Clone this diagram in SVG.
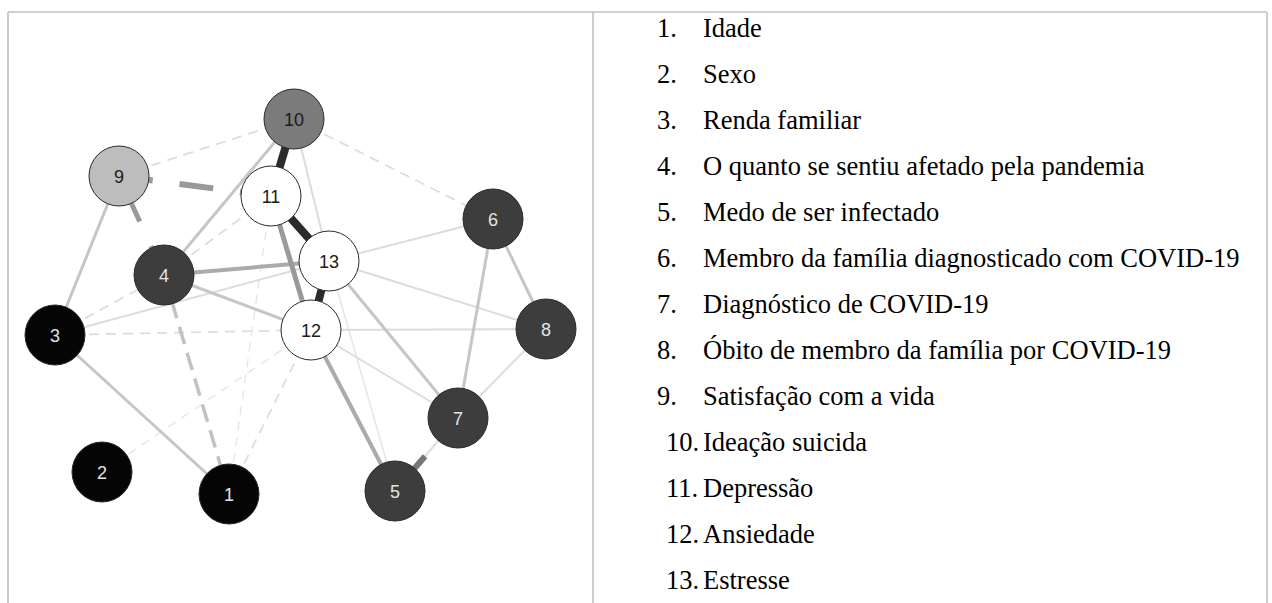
<svg xmlns="http://www.w3.org/2000/svg" width="1272" height="603" viewBox="0 0 1272 603">
<style>
.frame{stroke:#c0c0c0;stroke-width:1.6;fill:none}
.e{fill:none;stroke-linecap:butt}
.thick{stroke:#2b2b2b;stroke-width:8}
.mid{stroke:#9a9a9a;stroke-width:5}
.gray{stroke:#ababab;stroke-width:4}
.lg{stroke:#c6c6c6;stroke-width:3}
.lt{stroke:#dcdcdc;stroke-width:2}
.vlt{stroke:#e6e6e6;stroke-width:1.5}
.dl{stroke:#dddddd;stroke-width:1.8;stroke-dasharray:10 7}
.dvl{stroke:#e8e8e8;stroke-width:1.5;stroke-dasharray:9 7}
.n circle{stroke:#2a2a2a;stroke-width:1}
.n text{font-family:"Liberation Sans",Arial,sans-serif;font-size:18px;text-anchor:middle}
.dk circle{fill:#3d3d3d}
.dk text{fill:#e4e4e4}
.bk circle{fill:#050505}
.bk text{fill:#e4e4e4}
.wh circle{fill:#ffffff}
.wh text{fill:#1a1a1a}
.list text{font-family:"Liberation Serif","Times New Roman",serif;font-size:26.5px;fill:#000}
</style>
<g id="frame">
<line class="frame" x1="8" y1="12" x2="1267" y2="12"/>
<line class="frame" x1="8" y1="12" x2="8" y2="603"/>
<line class="frame" x1="593" y1="12" x2="593" y2="603"/>
<line class="frame" x1="1267" y1="12" x2="1267" y2="603"/>
</g>
<g id="connectors">
<line class="e dvl" x1="102" y1="472" x2="311" y2="330"/>
<line class="e dvl" x1="229" y1="494" x2="271" y2="196"/>
<line class="e dl" x1="229" y1="494" x2="311" y2="330"/>
<line class="e dl" x1="55" y1="335" x2="311" y2="330"/>
<line class="e dl" x1="55" y1="335" x2="164" y2="275"/>
<line class="e dl" x1="164" y1="275" x2="271" y2="196"/>
<line class="e dl" x1="119" y1="176" x2="294" y2="119"/>
<line class="e dl" x1="294" y1="119" x2="493" y2="219"/>
<line class="e vlt" x1="329" y1="261" x2="395" y2="491"/>
<line class="e lt" x1="294" y1="119" x2="329" y2="261"/>
<line class="e lt" x1="55" y1="335" x2="329" y2="261"/>
<line class="e lt" x1="329" y1="261" x2="493" y2="219"/>
<line class="e lt" x1="329" y1="261" x2="546" y2="329"/>
<line class="e lt" x1="311" y1="330" x2="546" y2="329"/>
<line class="e lt" x1="311" y1="330" x2="458" y2="418"/>
<line class="e lt" x1="546" y1="329" x2="458" y2="418"/>
<line class="e lt" x1="458" y1="418" x2="395" y2="491"/>
<line class="e lg" stroke-width="2.5" x1="55" y1="335" x2="229" y2="494"/>
<line class="e lg" x1="119" y1="176" x2="55" y2="335"/>
<line class="e lg" x1="164" y1="275" x2="294" y2="119"/>
<line class="e lg" x1="164" y1="275" x2="311" y2="330"/>
<line class="e lg" x1="329" y1="261" x2="458" y2="418"/>
<line class="e lg" x1="493" y1="219" x2="546" y2="329"/>
<line class="e lg" stroke="#bbbbbb" stroke-width="4" x1="493" y1="219" x2="458" y2="418"/>
<line class="e" stroke="#c2c2c2" stroke-width="3.5" stroke-dasharray="18 9" x1="164" y1="275" x2="229" y2="494"/>
<line class="e gray" x1="164" y1="275" x2="329" y2="261"/>
<line class="e gray" x1="311" y1="330" x2="395" y2="491"/>
<line class="e mid" x1="271" y1="196" x2="311" y2="330"/>
<line class="e" stroke="#999999" stroke-width="6" stroke-dasharray="34 27" x1="119" y1="176" x2="271" y2="196"/>
<line class="e" stroke="#999999" stroke-width="5" stroke-dasharray="50 27" x1="119" y1="176" x2="164" y2="275"/>
<line class="e" stroke="#777777" stroke-width="6" stroke-dasharray="46 200" x1="395" y1="491" x2="458" y2="418"/>
<line class="e thick" x1="294" y1="119" x2="271" y2="196"/>
<line class="e thick" stroke-width="9" x1="271" y1="196" x2="329" y2="261"/>
<line class="e thick" x1="329" y1="261" x2="311" y2="330"/>
</g>
<g id="node-1" class="n bk"><circle cx="229" cy="494" r="30"/><text x="229" y="500.5">1</text></g>
<g id="node-2" class="n bk"><circle cx="102" cy="472" r="30"/><text x="102" y="478.5">2</text></g>
<g id="node-3" class="n bk"><circle cx="55" cy="335" r="30"/><text x="55" y="341.5">3</text></g>
<g id="node-4" class="n dk"><circle cx="164" cy="275" r="30"/><text x="164" y="281.5">4</text></g>
<g id="node-5" class="n dk"><circle cx="395" cy="491" r="30"/><text x="395" y="497.5">5</text></g>
<g id="node-6" class="n dk"><circle cx="493" cy="219" r="30"/><text x="493" y="225.5">6</text></g>
<g id="node-7" class="n dk"><circle cx="458" cy="418" r="30"/><text x="458" y="424.5">7</text></g>
<g id="node-8" class="n dk"><circle cx="546" cy="329" r="30"/><text x="546" y="335.5">8</text></g>
<g id="node-9" class="n"><circle cx="119" cy="176" r="30" fill="#bdbdbd"/><text x="119" y="182.5" fill="#1a1a1a">9</text></g>
<g id="node-10" class="n"><circle cx="294" cy="119" r="30" fill="#7b7b7b"/><text x="294" y="125.5" fill="#1a1a1a">10</text></g>
<g id="node-11" class="n wh"><circle cx="271" cy="196" r="30"/><text x="271" y="202.5">11</text></g>
<g id="node-13" class="n wh"><circle cx="329" cy="261" r="30"/><text x="329" y="267.5">13</text></g>
<g id="node-12" class="n wh"><circle cx="311" cy="330" r="30"/><text x="311" y="336.5">12</text></g>
<g id="legend" class="list">
<text x="657" y="37">1.</text><text x="703" y="37">Idade</text>
<text x="657" y="83">2.</text><text x="703" y="83">Sexo</text>
<text x="657" y="129">3.</text><text x="703" y="129">Renda familiar</text>
<text x="657" y="175">4.</text><text x="703" y="175">O quanto se sentiu afetado pela pandemia</text>
<text x="657" y="221">5.</text><text x="703" y="221">Medo de ser infectado</text>
<text x="657" y="267">6.</text><text x="703" y="267">Membro da família diagnosticado com COVID-19</text>
<text x="657" y="313">7.</text><text x="703" y="313">Diagnóstico de COVID-19</text>
<text x="657" y="359">8.</text><text x="703" y="359">Óbito de membro da família por COVID-19</text>
<text x="657" y="405">9.</text><text x="703" y="405">Satisfação com a vida</text>
<text x="666" y="451">10.</text><text x="703" y="451">Ideação suicida</text>
<text x="666" y="497">11.</text><text x="703" y="497">Depressão</text>
<text x="666" y="543">12.</text><text x="703" y="543">Ansiedade</text>
<text x="666" y="589">13.</text><text x="703" y="589">Estresse</text>
</g>
</svg>
